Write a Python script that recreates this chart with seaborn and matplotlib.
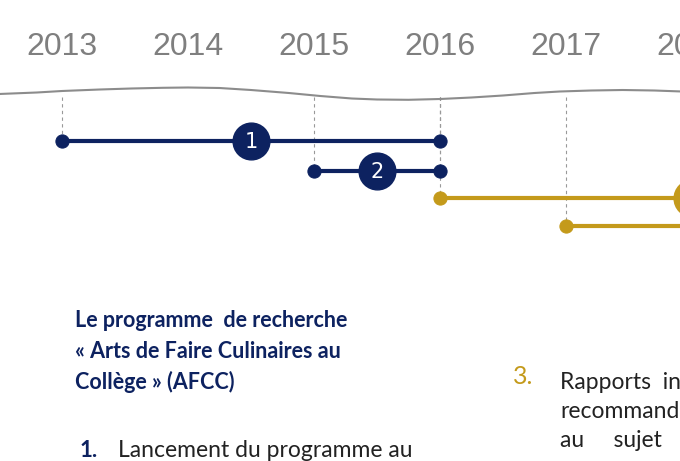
import matplotlib
matplotlib.use("Agg")
import matplotlib.pyplot as plt
import seaborn as sns
import pandas as pd

years = [2013, 2014, 2015, 2016, 2017, 2018]
year_labels = ["2013", "2014", "2015", "2016", "2017", "2018"]
bar_ids = ["1", "2", "3", "4"]
bar_start = [2013, 2015, 2016, 2017]
bar_end = [2016, 2016, 2018.05, 2018.05]
bar_row = [141, 171, 198, 226]
bar_color = ["#0d2260", "#0d2260", "#c49a1b", "#c49a1b"]
label_pos = [2014.5, 2015.5, 2018.0, None]
wave_x = [2012.5, 2012.8, 2013.0, 2013.3, 2013.55, 2013.8, 2014.0, 2014.25, 2014.5, 2014.8, 2015.05, 2015.3, 2015.5,
          2015.75, 2016.0, 2016.25, 2016.5, 2016.75, 2016.95, 2017.2, 2017.45, 2017.7, 2017.92]
wave_y = [94, 92.5, 91, 89.5, 88.5, 87.8, 87.5, 88, 90, 93, 96, 98.5, 99.5,
          99.8, 99, 97.5, 95.5, 93, 91.5, 90.5, 90, 90.5, 91.5]

NAVY = "#0d2260"; GOLD = "#c49a1b"; GRAY = "#7f7f7f"
fig = plt.figure(figsize=(6.8, 4.61), dpi=100)
ax = fig.add_axes([0, 0, 1, 1])
x0 = 2013 - 62 / 126
ax.set_xlim(x0, x0 + 680 / 126)
ax.set_ylim(461, 0)
ax.axis("off")

sns.lineplot(x=wave_x, y=wave_y, ax=ax, color="#8c8c8c", lw=1.5)
for yr, lab in zip(years, year_labels):
    ax.text(yr, 47, lab, ha="center", va="center", fontsize=23, color=GRAY, family="Liberation Sans")

for s, e, r, c, lp, bid in zip(bar_start, bar_end, bar_row, bar_color, label_pos, bar_ids):
    ax.plot([s, s], [97, r], ls=(0, (3, 3)), color="#999999", lw=0.8, zorder=1)
    if e <= 2016:
        ax.plot([e, e], [97, r], ls=(0, (3, 3)), color="#999999", lw=0.8, zorder=1)
    df = pd.DataFrame({"x": [s, e], "y": [r, r]})
    sns.lineplot(data=df, x="x", y="y", ax=ax, color=c, lw=3, zorder=2)
    pts = df if e <= 2016 else df.iloc[:1]
    sns.scatterplot(data=pts, x="x", y="y", ax=ax, color=c, s=90, edgecolor=c, zorder=3)
    if lp is not None:
        ax.scatter([lp], [r], s=700, color=c, zorder=4)
        ax.text(lp, r + 1, bid, ha="center", va="center", color="white", fontsize=15, zorder=5)

tf = "Lato"
for i, line in enumerate(["Le programme  de recherche", "« Arts de Faire Culinaires au", "Collège » (AFCC)"]):
    ax.text(x0 + 75 / 126, 320 + 31 * i, line, color=NAVY, fontsize=15.5, fontweight="bold", va="center", family=tf)
ax.text(x0 + 80 / 126, 450, "1.", color=NAVY, fontsize=16, fontweight="bold", va="center", family=tf)
ax.text(x0 + 118 / 126, 450, "Lancement du programme au", color="#222222", fontsize=16.5, va="center", family=tf)
ax.text(x0 + 513 / 126, 376, "3.", color=GOLD, fontsize=18, va="center", family=tf)
for i, line in enumerate(["Rapports  in", "recommand", "au     sujet"]):
    ax.text(x0 + 560 / 126, 382 + 29 * i, line, color="#222222", fontsize=16.5, va="center", family=tf)

fig.savefig("out.png", dpi=100)
